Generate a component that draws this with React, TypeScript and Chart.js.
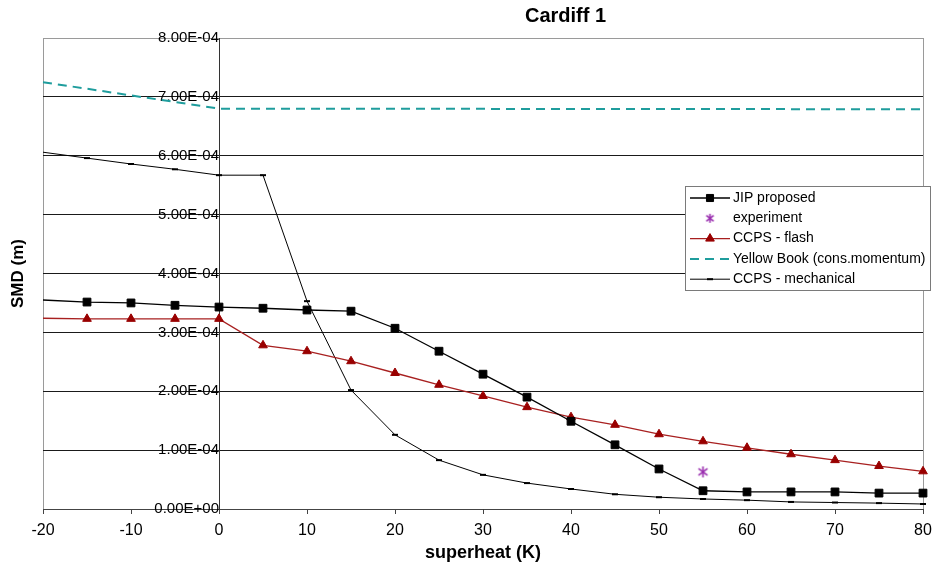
import React, { useEffect, useRef } from 'react';
import { Chart, registerables } from 'chart.js';
import { drawPoint } from 'chart.js/helpers';

Chart.register(...registerables);

const FONT = '"Liberation Sans", Arial, Helvetica, sans-serif';

// superheat (K)
const superheat = [-20, -15, -10, -5, 0, 5, 10, 15, 20, 25, 30, 35, 40, 45, 50, 55, 60, 65, 70, 75, 80];

// SMD (m)
const jipProposed = [
  3.55e-4, 3.515e-4, 3.5e-4, 3.46e-4, 3.43e-4, 3.41e-4, 3.38e-4, 3.36e-4, 3.07e-4, 2.68e-4, 2.29e-4,
  1.9e-4, 1.49e-4, 1.09e-4, 0.68e-4, 0.31e-4, 0.29e-4, 0.29e-4, 0.29e-4, 0.27e-4, 0.27e-4,
];
const ccpsFlash = [
  3.24e-4, 3.23e-4, 3.23e-4, 3.23e-4, 3.23e-4, 2.78e-4, 2.68e-4, 2.51e-4, 2.31e-4, 2.11e-4, 1.92e-4,
  1.73e-4, 1.56e-4, 1.43e-4, 1.27e-4, 1.15e-4, 1.04e-4, 0.93e-4, 0.83e-4, 0.73e-4, 0.64e-4,
];
const ccpsMechanical = [
  6.06e-4, 5.96e-4, 5.86e-4, 5.77e-4, 5.67e-4, 5.67e-4, 3.53e-4, 2.02e-4, 1.26e-4, 0.83e-4, 0.58e-4,
  0.44e-4, 0.34e-4, 0.25e-4, 0.2e-4, 0.17e-4, 0.15e-4, 0.12e-4, 0.11e-4, 0.1e-4, 0.085e-4,
];
const yellowBookX = [-20, 0, 80];
const yellowBookY = [7.25e-4, 6.8e-4, 6.79e-4];
const experimentX = [55];
const experimentY = [0.63e-4];

const yTickLabels = ['0.00E+00', '1.00E-04', '2.00E-04', '3.00E-04', '4.00E-04', '5.00E-04', '6.00E-04', '7.00E-04', '8.00E-04'];

const legendBox = { left: 685, top: 186, width: 245, height: 104, rowStart: 12, rowStep: 20.3 };

const toXY = (xs: number[], ys: number[]) => xs.map((x, i) => ({ x, y: ys[i] }));

function makeAsterisk(color: string, size: number): HTMLCanvasElement {
  const c = document.createElement('canvas');
  c.width = size;
  c.height = size;
  const g = c.getContext('2d') as CanvasRenderingContext2D;
  const m = size / 2;
  const r = size / 2 - 1;
  g.strokeStyle = color;
  g.lineWidth = 1.6;
  g.beginPath();
  g.moveTo(m, m - r);
  g.lineTo(m, m + r);
  const d = r * 0.82;
  g.moveTo(m - d, m - d * 0.75);
  g.lineTo(m + d, m + d * 0.75);
  g.moveTo(m - d, m + d * 0.75);
  g.lineTo(m + d, m - d * 0.75);
  g.stroke();
  return c;
}

const boxLegend = {
  id: 'boxLegend',
  afterDraw(chart: any) {
    const ctx = chart.ctx as CanvasRenderingContext2D;
    const b = legendBox;
    ctx.save();
    ctx.fillStyle = '#ffffff';
    ctx.fillRect(b.left, b.top, b.width, b.height);
    ctx.strokeStyle = '#7a7a7a';
    ctx.lineWidth = 1;
    ctx.strokeRect(b.left + 0.5, b.top + 0.5, b.width, b.height);
    chart.data.datasets.forEach((ds: any, i: number) => {
      const y = b.top + b.rowStart + i * b.rowStep;
      const x0 = b.left + 5;
      const x1 = b.left + 45;
      if (ds.showLine !== false) {
        ctx.beginPath();
        ctx.setLineDash(ds.borderDash || []);
        ctx.strokeStyle = ds.borderColor;
        ctx.lineWidth = ds.borderWidth;
        ctx.moveTo(x0, y);
        ctx.lineTo(x1, y);
        ctx.stroke();
        ctx.setLineDash([]);
      }
      if (ds.legendRadius) {
        ctx.fillStyle = ds.pointBackgroundColor || ds.borderColor;
        ctx.strokeStyle = ds.pointBorderColor || ds.borderColor;
        ctx.lineWidth = ds.pointBorderWidth || 1;
        drawPoint(ctx, { pointStyle: ds.pointStyle, radius: ds.legendRadius, rotation: 0, borderWidth: ds.pointBorderWidth || 1 }, (x0 + x1) / 2, y);
      }
      ctx.fillStyle = '#000';
      ctx.font = `14px ${FONT}`;
      ctx.textBaseline = 'middle';
      ctx.textAlign = 'left';
      ctx.fillText(ds.label, b.left + 48, y);
    });
    ctx.restore();
  },
};

const shiftTitle = {
  id: 'shiftTitle',
  afterLayout(chart: any) {
    const t = chart.titleBlock;
    if (t) {
      t.left += 104;
      t.right += 104;
    }
  },
};

export default function App() {
  const ref = useRef<HTMLCanvasElement | null>(null);

  useEffect(() => {
    if (!ref.current) return;
    Chart.defaults.font.family = FONT;
    const hideFirst = (r: number) => (c: any) => (c.dataIndex === 0 ? 0 : r);
    const asterisk = makeAsterisk('#9b30b0', 13);
    const asteriskSmall = makeAsterisk('#9b30b0', 11);
    const chart = new Chart(ref.current, {
      type: 'line',
      data: {
        datasets: [
          {
            label: 'JIP proposed',
            data: toXY(superheat, jipProposed),
            borderColor: '#000000',
            borderWidth: 1.3,
            pointStyle: 'rect',
            pointRadius: hideFirst(5.5),
            pointBackgroundColor: '#000000',
            pointBorderColor: '#000000',
            pointBorderWidth: 1,
            legendRadius: 5,
            tension: 0,
            clip: false,
            xAxisID: 'x',
            yAxisID: 'y',
          } as any,
          {
            label: 'experiment',
            data: toXY(experimentX, experimentY),
            showLine: false,
            borderColor: '#9b30b0',
            pointStyle: asterisk,
            pointRadius: 6,
            pointBackgroundColor: '#9b30b0',
            pointBorderColor: '#9b30b0',
            pointBorderWidth: 1.5,
            legendRadius: 5,
            legendStyle: asteriskSmall,
            clip: false,
            xAxisID: 'x',
            yAxisID: 'y',
          } as any,
          {
            label: 'CCPS - flash',
            data: toXY(superheat, ccpsFlash),
            borderColor: '#a82020',
            borderWidth: 1.3,
            pointStyle: 'triangle',
            pointRadius: hideFirst(5),
            pointBackgroundColor: '#990000',
            pointBorderColor: '#990000',
            pointBorderWidth: 1,
            legendRadius: 5,
            tension: 0,
            clip: false,
            xAxisID: 'x',
            yAxisID: 'y',
          } as any,
          {
            label: 'Yellow Book (cons.momentum)',
            data: toXY(yellowBookX, yellowBookY),
            borderColor: '#1f9d9d',
            borderWidth: 2,
            borderDash: [9, 6],
            pointRadius: 0,
            legendRadius: 0,
            tension: 0,
            clip: false,
            xAxisID: 'x',
            yAxisID: 'y',
          } as any,
          {
            label: 'CCPS - mechanical',
            data: toXY(superheat, ccpsMechanical),
            borderColor: '#000000',
            borderWidth: 1,
            pointStyle: 'line',
            pointRadius: hideFirst(3),
            pointBackgroundColor: '#000000',
            pointBorderColor: '#000000',
            pointBorderWidth: 2,
            legendRadius: 3,
            tension: 0,
            clip: false,
            xAxisID: 'x',
            yAxisID: 'y',
          } as any,
        ],
      },
      options: {
        responsive: false,
        animation: false,
        devicePixelRatio: 1,
        events: [],
        layout: { padding: { left: 0, right: 9, top: 0, bottom: 0 } },
        plugins: {
          legend: { display: false },
          tooltip: { enabled: false },
          title: {
            display: true,
            text: 'Cardiff 1',
            color: '#000',
            font: { family: FONT, size: 20, weight: 'bold' },
            padding: { top: 4, bottom: 10 },
          },
        },
        scales: {
          x: {
            type: 'linear',
            position: 'bottom',
            min: -20,
            max: 80,
            ticks: { stepSize: 10, color: '#000', font: { family: FONT, size: 16 }, padding: 7 },
            grid: {
              color: (c: any) => (c.index === 0 || c.index === 10 ? '#9a9a9a' : 'rgba(0,0,0,0)'),
              tickColor: '#444',
              tickLength: 5,
              lineWidth: 1,
            },
            border: { color: '#444', width: 1 },
            title: {
              display: true,
              text: 'superheat (K)',
              color: '#000',
              font: { family: FONT, size: 18, weight: 'bold' },
              padding: { top: 0, bottom: 6 },
            },
            afterFit: (s: any) => {
              s.height = 61;
              s.paddingLeft = 0;
              s.paddingRight = 0;
            },
          },
          y: {
            type: 'linear',
            position: { x: 0 } as any,
            min: 0,
            max: 8e-4,
            ticks: {
              stepSize: 1e-4,
              color: '#000',
              font: { family: FONT, size: 15 },
              padding: 1,
              callback: (_v: any, i: number) => yTickLabels[i],
            },
            grid: {
              color: (c: any) => (c.index === 8 ? '#9a9a9a' : '#1a1a1a'),
              drawTicks: false,
              lineWidth: 1,
            },
            border: { color: '#333', width: 1 },
          },
          yTitle: {
            type: 'linear',
            position: 'left',
            min: 0,
            max: 8e-4,
            ticks: { display: false },
            grid: { display: false },
            border: { display: false },
            title: {
              display: true,
              text: 'SMD (m)',
              color: '#000',
              font: { family: FONT, size: 17, weight: 'bold' },
              padding: { top: 8, bottom: 0 },
            },
            afterFit: (s: any) => {
              s.width = 43;
            },
          },
        },
      } as any,
      plugins: [
        {
          id: 'legendStyleSwap',
          beforeDraw(chart: any) {
            chart.data.datasets.forEach((ds: any) => {
              if (ds.legendStyle) ds._legendPointStyle = ds.legendStyle;
            });
          },
        },
        {
          ...boxLegend,
          afterDraw(chart: any) {
            const saved = chart.data.datasets.map((ds: any) => ds.pointStyle);
            chart.data.datasets.forEach((ds: any) => {
              if (ds.legendStyle) ds.pointStyle = ds.legendStyle;
            });
            boxLegend.afterDraw(chart);
            chart.data.datasets.forEach((ds: any, i: number) => {
              ds.pointStyle = saved[i];
            });
          },
        },
        shiftTitle,
      ],
    });
    return () => chart.destroy();
  }, []);

  return (
    <div style={{ position: 'absolute', left: 0, top: 0, width: 932, height: 570, background: '#fff' }}>
      <canvas ref={ref} width={932} height={570} style={{ display: 'block' }} />
    </div>
  );
}
